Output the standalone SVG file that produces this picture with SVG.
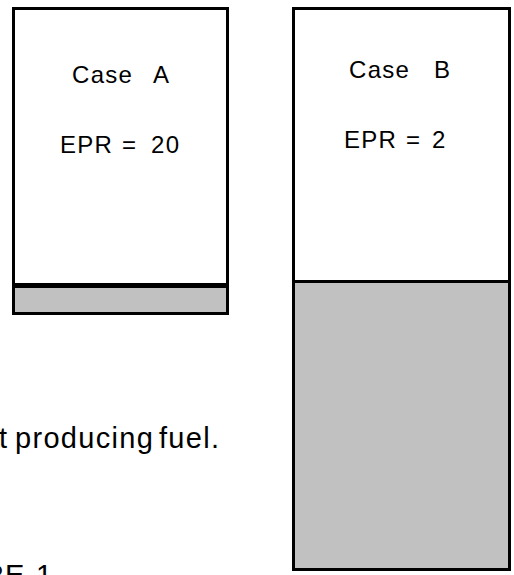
<svg xmlns="http://www.w3.org/2000/svg" width="514" height="575" viewBox="0 0 514 575">
  <style>
    .frame { fill: none; stroke: #000; stroke-width: 3; }
    .fuel { fill: #c0c1c0; }
    .lbl { font-family: "Liberation Sans", Arial, sans-serif; font-size: 24px; letter-spacing: 1.3px; fill: #000; }
    .body { font-family: "Liberation Sans", Arial, sans-serif; font-size: 29px; letter-spacing: 1.3px; fill: #000; }
  </style>
  <rect width="514" height="575" fill="#fff"/>

  <!-- Case A: thin fuel band at the base -->
  <g id="caseA">
    <rect class="fuel" x="15" y="288" width="212" height="24"/>
    <rect x="15" y="283" width="212" height="5" fill="#000"/>
    <rect class="frame" x="13.5" y="8.5" width="214" height="305"/>
    <text class="lbl" y="83"><tspan x="72">Case</tspan><tspan x="153">A</tspan></text>
    <text class="lbl" y="153"><tspan x="60">EPR</tspan><tspan x="122">=</tspan><tspan x="151">20</tspan></text>
  </g>

  <!-- Case B: fuel fills the lower half -->
  <g id="caseB">
    <rect class="fuel" x="295" y="283" width="214" height="285"/>
    <rect class="frame" x="293.5" y="8.5" width="216" height="561"/>
    <line class="frame" x1="295" y1="281.5" x2="509" y2="281.5"/>
    <text class="lbl" y="78"><tspan x="349">Case</tspan><tspan x="434">B</tspan></text>
    <text class="lbl" y="148"><tspan x="344">EPR</tspan><tspan x="406">=</tspan><tspan x="432">2</tspan></text>
  </g>

  <!-- caption lines running in from the left -->
  <g id="caption">
    <text class="body" y="448"><tspan x="-1">t</tspan><tspan x="15">producing</tspan><tspan x="159">fuel.</tspan></text>
    <text class="body" y="585"><tspan x="-17">R</tspan><tspan x="5">E</tspan><tspan x="36">1</tspan></text>
  </g>
</svg>
